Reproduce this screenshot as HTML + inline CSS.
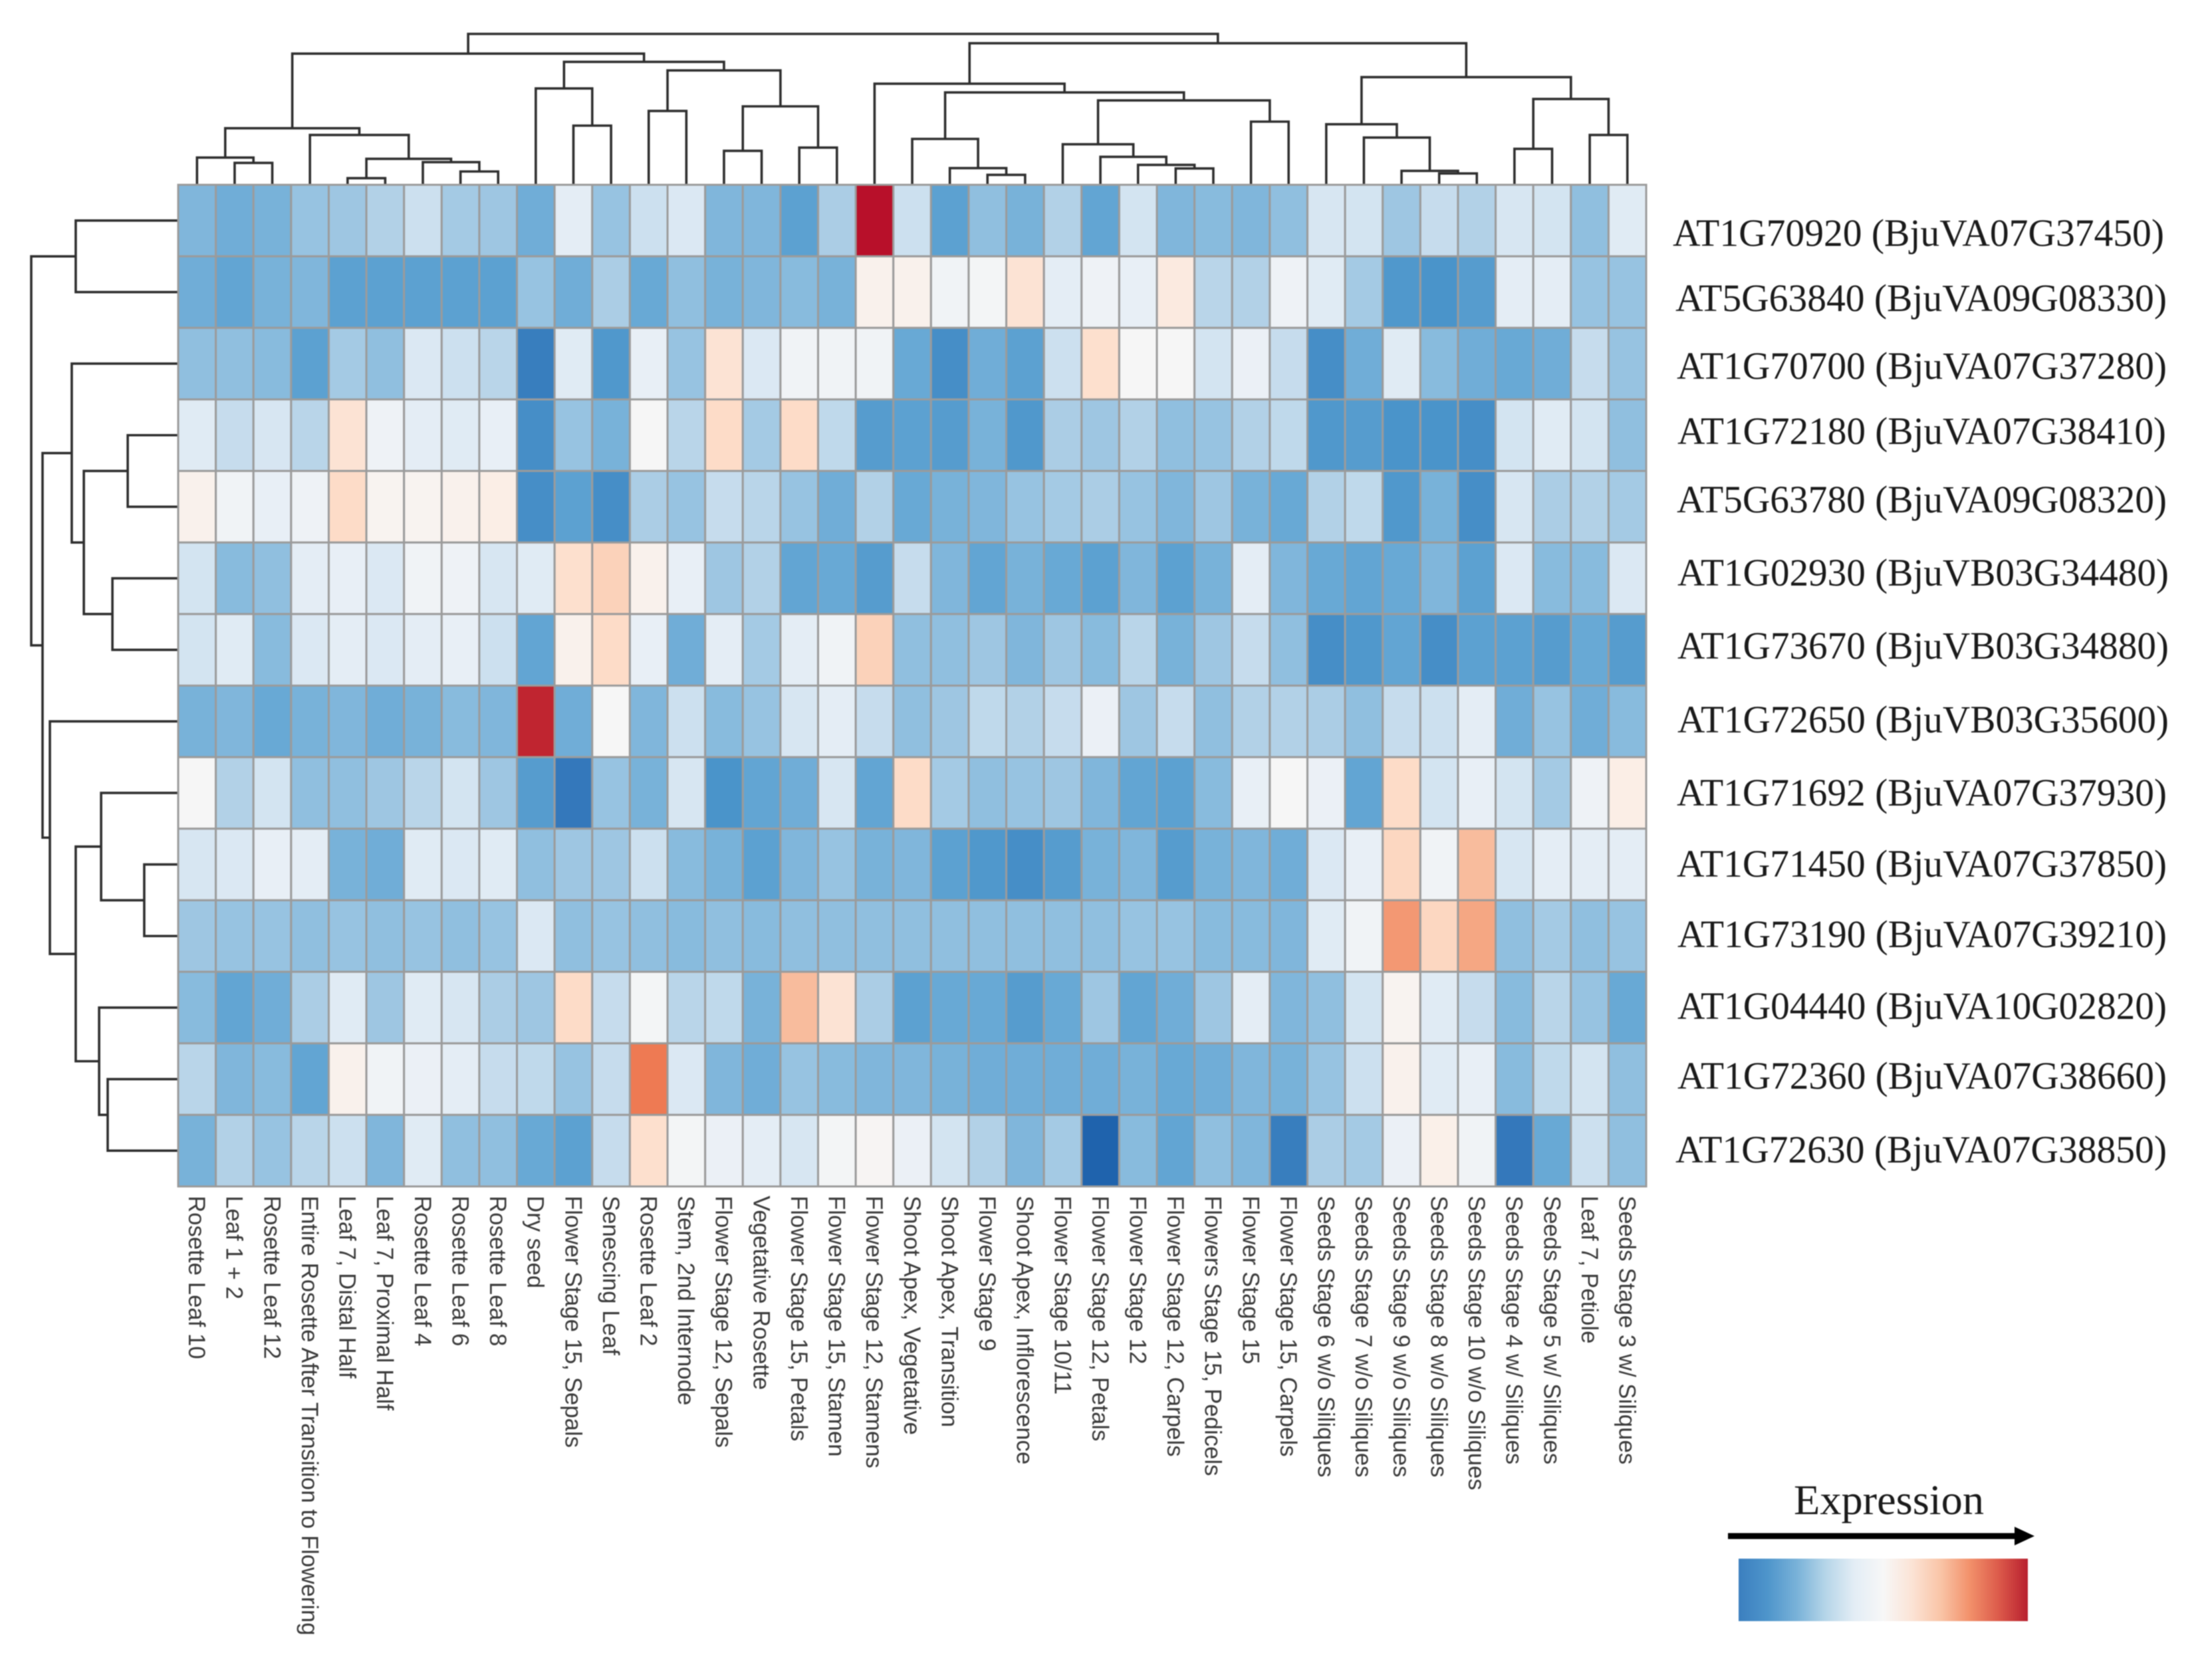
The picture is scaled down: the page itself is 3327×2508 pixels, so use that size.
<!DOCTYPE html>
<html lang="en">
<head>
<meta charset="utf-8">
<title>Expression heatmap</title>
<style>
  html, body { margin: 0; padding: 0; background: #fff; }
  body { width: 3327px; height: 2508px; overflow: hidden; }
  #chart { position: absolute; left: 0; top: 0; display: block; filter: blur(0.8px); }
  .gene { font-family: "Liberation Serif", serif; font-size: 58px; fill: #1a1a1a; }
  .tissue { font-family: "Liberation Sans", sans-serif; font-size: 34.8px; fill: #3a3a3a; }
  .legend-title { font-family: "Liberation Serif", serif; font-size: 64px; fill: #1a1a1a; }
</style>
</head>
<body>
<svg id="chart" xmlns="http://www.w3.org/2000/svg" width="3327" height="2508" viewBox="0 0 3327 2508">
  <defs>
    <linearGradient id="expr-gradient" x1="0" x2="1" y1="0" y2="0">
      <stop offset="0" stop-color="#3b7fbf"/>
      <stop offset="0.1" stop-color="#4e95cb"/>
      <stop offset="0.2" stop-color="#78b1d8"/>
      <stop offset="0.3" stop-color="#b5d5e8"/>
      <stop offset="0.4" stop-color="#e3edf5"/>
      <stop offset="0.5" stop-color="#f7f7f7"/>
      <stop offset="0.6" stop-color="#fbe3d5"/>
      <stop offset="0.7" stop-color="#f9c4a6"/>
      <stop offset="0.8" stop-color="#f2906a"/>
      <stop offset="0.9" stop-color="#dc5a4a"/>
      <stop offset="1" stop-color="#b8202f"/>
    </linearGradient>
  </defs>
  <g id="column-dendrogram"></g>
  <g id="row-dendrogram"></g>
  <g id="heatmap"></g>
  <g id="tissue-labels"></g>
  <g id="gene-labels">
    <text class="gene" x="2516" y="370" textLength="739" lengthAdjust="spacingAndGlyphs">AT1G70920 (BjuVA07G37450)</text>
    <text class="gene" x="2520" y="468" textLength="739" lengthAdjust="spacingAndGlyphs">AT5G63840 (BjuVA09G08330)</text>
    <text class="gene" x="2522" y="570" textLength="737" lengthAdjust="spacingAndGlyphs">AT1G70700 (BjuVA07G37280)</text>
    <text class="gene" x="2523" y="668" textLength="735" lengthAdjust="spacingAndGlyphs">AT1G72180 (BjuVA07G38410)</text>
    <text class="gene" x="2522" y="771" textLength="737" lengthAdjust="spacingAndGlyphs">AT5G63780 (BjuVA09G08320)</text>
    <text class="gene" x="2523" y="881" textLength="739" lengthAdjust="spacingAndGlyphs">AT1G02930 (BjuVB03G34480)</text>
    <text class="gene" x="2523" y="991" textLength="739" lengthAdjust="spacingAndGlyphs">AT1G73670 (BjuVB03G34880)</text>
    <text class="gene" x="2523" y="1102" textLength="739" lengthAdjust="spacingAndGlyphs">AT1G72650 (BjuVB03G35600)</text>
    <text class="gene" x="2522" y="1212" textLength="737" lengthAdjust="spacingAndGlyphs">AT1G71692 (BjuVA07G37930)</text>
    <text class="gene" x="2522" y="1319" textLength="737" lengthAdjust="spacingAndGlyphs">AT1G71450 (BjuVA07G37850)</text>
    <text class="gene" x="2523" y="1425" textLength="736" lengthAdjust="spacingAndGlyphs">AT1G73190 (BjuVA07G39210)</text>
    <text class="gene" x="2523" y="1533" textLength="736" lengthAdjust="spacingAndGlyphs">AT1G04440 (BjuVA10G02820)</text>
    <text class="gene" x="2523" y="1638" textLength="736" lengthAdjust="spacingAndGlyphs">AT1G72360 (BjuVA07G38660)</text>
    <text class="gene" x="2520" y="1749" textLength="739" lengthAdjust="spacingAndGlyphs">AT1G72630 (BjuVA07G38850)</text>
  </g>
  <g id="legend">
    <text class="legend-title" x="2698" y="2278" textLength="286" lengthAdjust="spacingAndGlyphs">Expression</text>
    <rect x="2599" y="2306.5" width="434" height="9" fill="#000"></rect>
    <polygon points="3030,2297 3060,2311 3030,2325" fill="#000"></polygon>
    <rect x="2615" y="2345" width="435" height="94" fill="url(#expr-gradient)"></rect>
  </g>
</svg>
<script>
const tissues = ["Rosette Leaf 10","Leaf 1 + 2","Rosette Leaf 12","Entire Rosette After Transition to Flowering","Leaf 7, Distal Half","Leaf 7, Proximal Half","Rosette Leaf 4","Rosette Leaf 6","Rosette Leaf 8","Dry seed","Flower Stage 15, Sepals","Senescing Leaf","Rosette Leaf 2","Stem, 2nd Internode","Flower Stage 12, Sepals","Vegetative Rosette","Flower Stage 15, Petals","Flower Stage 15, Stamen","Flower Stage 12, Stamens","Shoot Apex, Vegetative","Shoot Apex, Transition","Flower Stage 9","Shoot Apex, Inflorescence","Flower Stage 10/11","Flower Stage 12, Petals","Flower Stage 12","Flower Stage 12, Carpels","Flowers Stage 15, Pedicels","Flower Stage 15","Flower Stage 15, Carpels","Seeds Stage 6 w/o Siliques","Seeds Stage 7 w/o Siliques","Seeds Stage 9 w/o Siliques","Seeds Stage 8 w/o Siliques","Seeds Stage 10 w/o Siliques","Seeds Stage 4 w/ Siliques","Seeds Stage 5 w/ Siliques","Leaf 7, Petiole","Seeds Stage 3 w/ Siliques"];

const expression = [
  [2.8,2.6,2.7,3.1,3.2,3.5,3.9,3.3,3.2,2.6,4.4,3.1,3.9,4.2,2.8,2.8,2.3,3.4,9.2,3.9,2.3,3.0,2.7,3.5,2.4,4.0,2.8,2.9,2.8,3.0,4.1,4.0,3.2,3.8,3.5,4.1,4.0,3.0,4.3],
  [2.6,2.4,2.7,2.8,2.3,2.3,2.3,2.3,2.3,3.1,2.6,3.4,2.5,3.0,2.7,2.8,2.9,2.7,5.3,5.3,4.8,4.9,5.8,4.4,4.7,4.5,5.6,3.6,3.5,4.7,4.3,3.3,2.1,2.0,2.2,4.4,4.4,3.1,3.1],
  [3.0,3.0,2.9,2.3,3.3,3.0,4.2,3.9,3.6,1.6,4.3,2.1,4.5,3.1,5.8,4.2,4.8,4.8,4.8,2.5,1.9,2.6,2.3,3.9,5.9,5.0,5.0,4.0,4.6,3.8,1.9,2.6,4.3,2.9,2.6,2.5,2.6,3.8,3.1],
  [4.3,3.8,4.1,3.6,5.8,4.7,4.4,4.3,4.5,1.9,3.1,2.7,5.0,3.6,6.0,3.3,6.0,3.7,2.2,2.3,2.2,2.7,2.1,3.4,3.2,3.5,3.0,3.1,3.5,3.7,2.1,2.2,2.0,2.0,1.9,4.0,4.3,4.0,3.0],
  [5.3,4.8,4.5,4.7,6.0,5.2,5.2,5.3,5.5,1.9,2.3,1.9,3.4,3.1,3.8,3.6,3.1,2.6,3.5,2.5,2.7,2.8,3.1,3.3,3.4,3.1,2.8,3.2,2.7,2.5,3.5,3.7,2.1,2.7,1.9,4.1,3.4,3.5,3.3],
  [4.0,2.9,3.0,4.4,4.5,4.2,4.8,4.7,4.1,4.3,5.9,6.2,5.3,4.5,3.2,3.5,2.4,2.5,2.2,3.8,2.8,2.4,2.7,2.5,2.3,2.8,2.3,2.7,4.4,2.8,2.5,2.4,2.5,2.8,2.3,4.2,2.9,2.9,4.2],
  [4.0,4.3,2.9,4.2,4.4,4.2,4.4,4.5,3.9,2.4,5.3,6.0,4.5,2.6,4.4,3.3,4.4,4.8,6.2,3.0,3.0,3.2,2.8,3.2,2.9,3.6,2.7,3.2,3.8,3.0,1.9,2.1,2.4,1.9,2.3,2.3,2.2,2.5,2.2],
  [2.7,2.8,2.5,2.7,2.8,2.6,2.7,2.9,2.8,8.9,2.6,5.0,2.8,3.9,2.9,3.1,4.1,4.4,3.8,3.0,3.2,3.7,3.5,3.8,4.6,3.2,3.8,3.0,3.5,3.5,3.4,3.0,3.8,3.9,4.4,2.6,3.1,2.6,2.9],
  [5.0,3.5,4.0,3.0,3.0,3.2,3.6,4.0,3.2,2.2,1.5,3.1,2.7,4.1,2.0,2.4,2.6,4.1,2.4,6.0,3.3,3.0,3.1,3.2,2.8,2.4,2.3,2.9,4.5,5.0,4.6,2.4,6.0,4.0,4.5,4.0,3.3,4.7,5.5],
  [4.1,4.2,4.5,4.4,2.7,2.6,4.3,4.2,4.3,3.0,3.2,3.2,3.9,2.9,2.7,2.3,2.8,3.1,2.7,2.8,2.3,2.1,1.9,2.2,2.7,2.8,2.2,2.7,2.8,2.6,4.2,4.5,6.1,4.8,6.6,4.1,4.4,4.4,4.4],
  [3.2,3.1,3.1,3.0,3.1,3.0,3.1,3.0,3.1,4.2,3.0,3.1,3.0,2.9,3.0,2.9,3.0,3.0,3.0,3.0,3.0,3.0,3.0,3.0,3.0,3.1,3.1,2.9,2.9,2.8,4.3,4.8,7.1,6.1,6.9,3.0,3.3,3.0,3.1],
  [2.9,2.4,2.6,3.4,4.3,3.2,4.3,4.1,3.4,3.2,6.0,3.8,4.9,3.6,3.7,2.7,6.6,5.8,3.4,2.3,2.5,2.5,2.2,2.5,3.2,2.4,2.6,3.2,4.4,2.8,3.0,4.0,5.2,4.3,3.8,2.9,3.6,3.1,2.5],
  [3.6,2.8,2.9,2.4,5.3,4.8,4.6,4.4,3.8,3.7,3.1,3.8,7.5,4.2,2.8,2.6,3.1,2.9,2.8,2.8,2.7,2.6,2.6,2.6,2.6,2.7,2.5,2.6,2.8,2.7,3.1,3.9,5.3,4.3,4.5,2.9,3.7,4.0,3.0],
  [2.7,3.5,3.1,3.6,3.9,2.8,4.3,3.0,3.0,2.5,2.3,3.8,5.9,4.9,4.6,4.4,4.1,4.9,5.1,4.6,4.0,3.5,2.8,3.3,1.0,2.9,2.4,3.0,2.8,1.6,3.4,3.3,4.6,5.4,4.8,1.5,2.5,3.9,3.0]
];

/* Linkage trees: [left, right, distance]; a bare number is a leaf index. */
const columnTree = [
  [
    [[0,[1,2,14.3],17.8],[3,[[4,5,4.3],[6,[7,8,8.7],14.8],17],32.6],37],
    [[9,[10,11,38.7],63],[[12,13,48.3],[[14,15,22.2],[16,17,24.3],51.3],74.8],80.4],
    85.8
  ],
  [
    [18,[[19,[20,[21,22,6.5],10.9],30],[[23,[24,[25,[26,27,10.7],13],18.3],26.5],[28,29,41.3],55.2],60.4],66.1],
    [[30,[31,[32,[33,34,7.4],9.1],30.9],39.6],[[35,36,23.5],[37,38,32.6],56.1],70.4],
    92.6
  ],
  98.7
];
const rowTree = [
  [0,1,67],
  [
    [2,[[3,4,33],[5,6,43],61.7],69.6],
    [7,[[8,[9,10,22.2],50.4],[11,[12,13,46.1],51.7],67],83.9],
    88.7
  ],
  96.1
];

const stopValues = [1,1.5,2,2.5,3,3.5,4,4.5,5,5.5,6,6.5,7,7.5,8,9,9.2];
const stopColors = ["#1f63ad","#3478bb","#4a94ca","#68a9d5","#90bfdf","#b2d1e7","#d3e4f1","#e8eff6","#f6f6f6","#fbeee6","#fddcc8","#f9c3a5","#f4a07b","#ee7a53","#d6604d","#be1e2d","#b8102a"];

const SVG_NS = "http://www.w3.org/2000/svg";
const plotLeft = 268, plotTop = 278, plotWidth = 2208, plotHeight = 1507;
const nCols = tissues.length, nRows = expression.length;
const cellW = plotWidth / nCols, cellH = plotHeight / nRows;
const treeUnit = 2.3;

function xScale(i) { return plotLeft + i * cellW; }
function yScale(r) { return plotTop + r * cellH; }
function colDistance(d) { return plotTop - d * treeUnit; }
function rowDistance(d) { return plotLeft - d * treeUnit; }

function hexToRgb(h) {
  return [parseInt(h.slice(1,3),16), parseInt(h.slice(3,5),16), parseInt(h.slice(5,7),16)];
}
function colorScale(v) {
  if (v <= stopValues[0]) return stopColors[0];
  for (let i = 1; i < stopValues.length; i++) {
    if (v <= stopValues[i]) {
      const t = (v - stopValues[i-1]) / (stopValues[i] - stopValues[i-1]);
      const a = hexToRgb(stopColors[i-1]), b = hexToRgb(stopColors[i]);
      const c = a.map((x, k) => Math.round(x + (b[k] - x) * t));
      return "rgb(" + c.join(",") + ")";
    }
  }
  return stopColors[stopColors.length - 1];
}

const heatmapGroup = document.getElementById("heatmap");
expression.forEach(function (row, r) {
  row.forEach(function (value, c) {
    const rect = document.createElementNS(SVG_NS, "rect");
    rect.setAttribute("x", xScale(c));
    rect.setAttribute("y", yScale(r));
    rect.setAttribute("width", cellW);
    rect.setAttribute("height", cellH);
    rect.setAttribute("fill", colorScale(value));
    rect.setAttribute("stroke", "#9b9b9b");
    rect.setAttribute("stroke-width", "3");
    
    
    heatmapGroup.appendChild(rect);
  });
});

const tissueGroup = document.getElementById("tissue-labels");
tissues.forEach(function (name, i) {
  const label = document.createElementNS(SVG_NS, "text");
  label.setAttribute("class", "tissue");
  label.setAttribute("transform", "translate(" + (xScale(i) + cellW / 2) + ",1799) rotate(90)");
  label.setAttribute("dy", "0.35em");
  label.textContent = name;
  
  
  tissueGroup.appendChild(label);
});

function drawColumnNode(node, group) {
  if (typeof node === "number") return { pos: xScale(node) + cellW / 2, base: plotTop };
  const a = drawColumnNode(node[0], group);
  const b = drawColumnNode(node[1], group);
  const top = colDistance(node[2]);
  const link = document.createElementNS(SVG_NS, "path");
  link.setAttribute("d", "M" + a.pos + " " + a.base + "V" + top + "H" + b.pos + "V" + b.base);
  link.setAttribute("fill", "none");
  link.setAttribute("stroke", "#2e2e2e");
  link.setAttribute("stroke-width", "3.6");
  
  
  group.appendChild(link);
  return { pos: (a.pos + b.pos) / 2, base: top };
}
function drawRowNode(node, group) {
  if (typeof node === "number") return { pos: yScale(node) + cellH / 2, base: plotLeft };
  const a = drawRowNode(node[0], group);
  const b = drawRowNode(node[1], group);
  const left = rowDistance(node[2]);
  const link = document.createElementNS(SVG_NS, "path");
  link.setAttribute("d", "M" + a.base + " " + a.pos + "H" + left + "V" + b.pos + "H" + b.base);
  link.setAttribute("fill", "none");
  link.setAttribute("stroke", "#2e2e2e");
  link.setAttribute("stroke-width", "3.6");
  
  
  group.appendChild(link);
  return { pos: (a.pos + b.pos) / 2, base: left };
}
drawColumnNode(columnTree, document.getElementById("column-dendrogram"));
drawRowNode(rowTree, document.getElementById("row-dendrogram"));
</script>
</body>
</html>
